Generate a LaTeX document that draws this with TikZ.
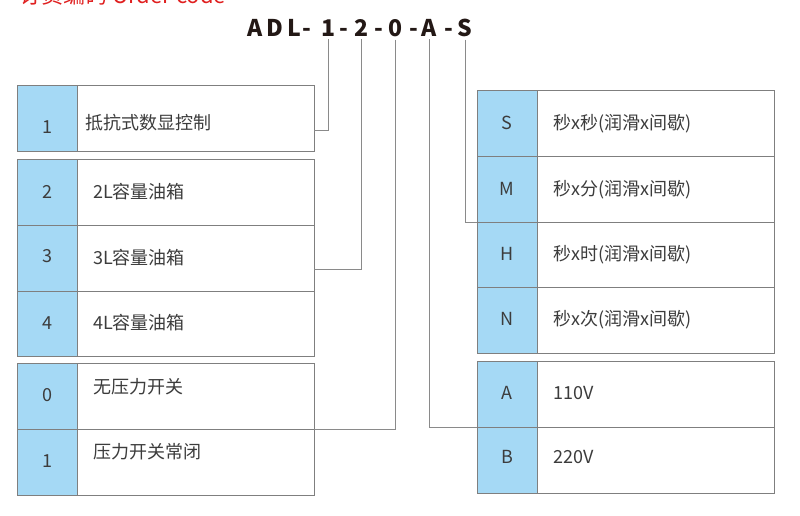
\documentclass[tikz,border=0pt]{standalone}
\usepackage{fontspec}
\setmainfont{Noto Sans CJK SC}
\definecolor{keyblue}{HTML}{A5D9F5}
\definecolor{boxgray}{HTML}{7F7F7F}
\definecolor{linegray}{HTML}{8A8A8A}
\definecolor{txtgray}{HTML}{3C3C3C}
\definecolor{titlered}{HTML}{E02020}
\definecolor{codeblack}{HTML}{231815}
\begin{document}
\begin{tikzpicture}[x=1pt,y=-1pt,
  keycell/.style={draw=boxgray, fill=keyblue, line width=0.8pt, minimum width=60pt, anchor=north west, inner sep=0pt, outer sep=0pt},
  desccell/.style={draw=boxgray, fill=white, line width=0.8pt, minimum width=237pt, anchor=north west, inner sep=0pt, outer sep=0pt},
  keytxt/.style={anchor=base, inner sep=0pt, text=txtgray, font=\fontsize{18}{20}\selectfont},
  desctxt/.style={anchor=base west, inner sep=0pt, text=txtgray, font=\fontsize{18}{20}\selectfont},
  codech/.style={anchor=base, inner sep=0pt, text=codeblack, font=\fontsize{23}{25}\selectfont\bfseries},
  conn/.style={draw=linegray, line width=0.9pt, shorten <=2pt}]
\useasboundingbox (0,0) rectangle (800,516);
\clip (0,0) rectangle (800,516);
\fill[white] (0,0) rectangle (800,516);
% title (cut off at top)
\node[anchor=base west, inner sep=0pt, text=titlered, font=\fontsize{22}{24}\selectfont] (title) at (19,3.5) {订货编码 Order code};
% code characters
\node[codech] (cA1) at (255,37) {A};
\node[codech] (cD) at (275,37) {D};
\node[codech] (cL) at (294,37) {L};
\node[codech] (h1) at (307,37) {-};
\node[codech] (t1) at (328,37) {1};
\node[codech] (h2) at (344,37) {-};
\node[codech] (t2) at (361,37) {2};
\node[codech] (h3) at (379,37) {-};
\node[codech] (t0) at (395,37) {0};
\node[codech] (h4) at (414,37) {-};
\node[codech] (tA) at (429,37) {A};
\node[codech] (h5) at (449,37) {-};
\node[codech] (tS) at (465,37) {S};
\coordinate (j1) at (0,130);
\coordinate (j2) at (0,269);
% left cells
\node[keycell, minimum height=66pt] (k1) at (17,85) {};
\node[desccell, minimum height=66pt] (d1) at (77,85) {};
\node[keycell, minimum height=66pt] (k2) at (17,159) {};
\node[desccell, minimum height=66pt] (d2) at (77,159) {};
\node[keycell, minimum height=66pt] (k3) at (17,225) {};
\node[desccell, minimum height=66pt] (d3) at (77,225) {};
\node[keycell, minimum height=65pt] (k4) at (17,291) {};
\node[desccell, minimum height=65pt] (d4) at (77,291) {};
\node[keycell, minimum height=66pt] (k0) at (17,363) {};
\node[desccell, minimum height=66pt] (d0) at (77,363) {};
\node[keycell, minimum height=66pt] (kp) at (17,429) {};
\node[desccell, minimum height=66pt] (dp) at (77,429) {};
% right cells
\node[keycell, minimum height=66pt] (kS) at (477,90) {};
\node[desccell, minimum height=66pt] (dS) at (537,90) {};
\node[keycell, minimum height=66pt] (kM) at (477,156) {};
\node[desccell, minimum height=66pt] (dM) at (537,156) {};
\node[keycell, minimum height=65pt] (kH) at (477,222) {};
\node[desccell, minimum height=65pt] (dH) at (537,222) {};
\node[keycell, minimum height=66pt] (kN) at (477,287) {};
\node[desccell, minimum height=66pt] (dN) at (537,287) {};
\node[keycell, minimum height=66pt] (kA) at (477,361) {};
\node[desccell, minimum height=66pt] (dA) at (537,361) {};
\node[keycell, minimum height=66pt] (kB) at (477,427) {};
\node[desccell, minimum height=66pt] (dB) at (537,427) {};
% connectors
\draw[conn] (t1.south) |- (d1.east |- j1);
\draw[conn] (t2.south) |- (d3.east |- j2);
\draw[conn] (t0.south) |- (d0.south east);
\draw[conn] (tA.south) |- (kA.south west);
\draw[conn] (tS.south) |- (kM.south west);
% left texts
\node[keytxt] (n1) at (47,133.6) {1};
\node[keytxt] (n2) at (47,198.6) {2};
\node[keytxt] (n3) at (47,262.6) {3};
\node[keytxt] (n4) at (47,329.6) {4};
\node[keytxt] (n0) at (47,401.6) {0};
\node[keytxt] (np) at (47,467.6) {1};
\node[desctxt] (e1) at (85,129.6) {抵抗式数显控制};
\node[desctxt] (e2) at (93,198.6) {2L容量油箱};
\node[desctxt] (e3) at (93,264.6) {3L容量油箱};
\node[desctxt] (e4) at (93,329.6) {4L容量油箱};
\node[desctxt] (e0) at (93,393.6) {无压力开关};
\node[desctxt] (ep) at (93,458.6) {压力开关常闭};
% right texts
\node[keytxt] (nS) at (507,129.6) {S};
\node[keytxt] (nM) at (507,195.6) {M};
\node[keytxt] (nH) at (507,260.6) {H};
\node[keytxt] (nN) at (507,325.6) {N};
\node[keytxt] (nA) at (507,399.6) {A};
\node[keytxt] (nB) at (507,463.6) {B};
\node[desctxt] (eS) at (553,129.6) {秒x秒(润滑x间歇)};
\node[desctxt] (eM) at (553,195.6) {秒x分(润滑x间歇)};
\node[desctxt] (eH) at (553,260.6) {秒x时(润滑x间歇)};
\node[desctxt] (eN) at (553,325.6) {秒x次(润滑x间歇)};
\node[desctxt] (eA) at (553,399.6) {110V};
\node[desctxt] (eB) at (553,463.6) {220V};
\end{tikzpicture}
\end{document}
